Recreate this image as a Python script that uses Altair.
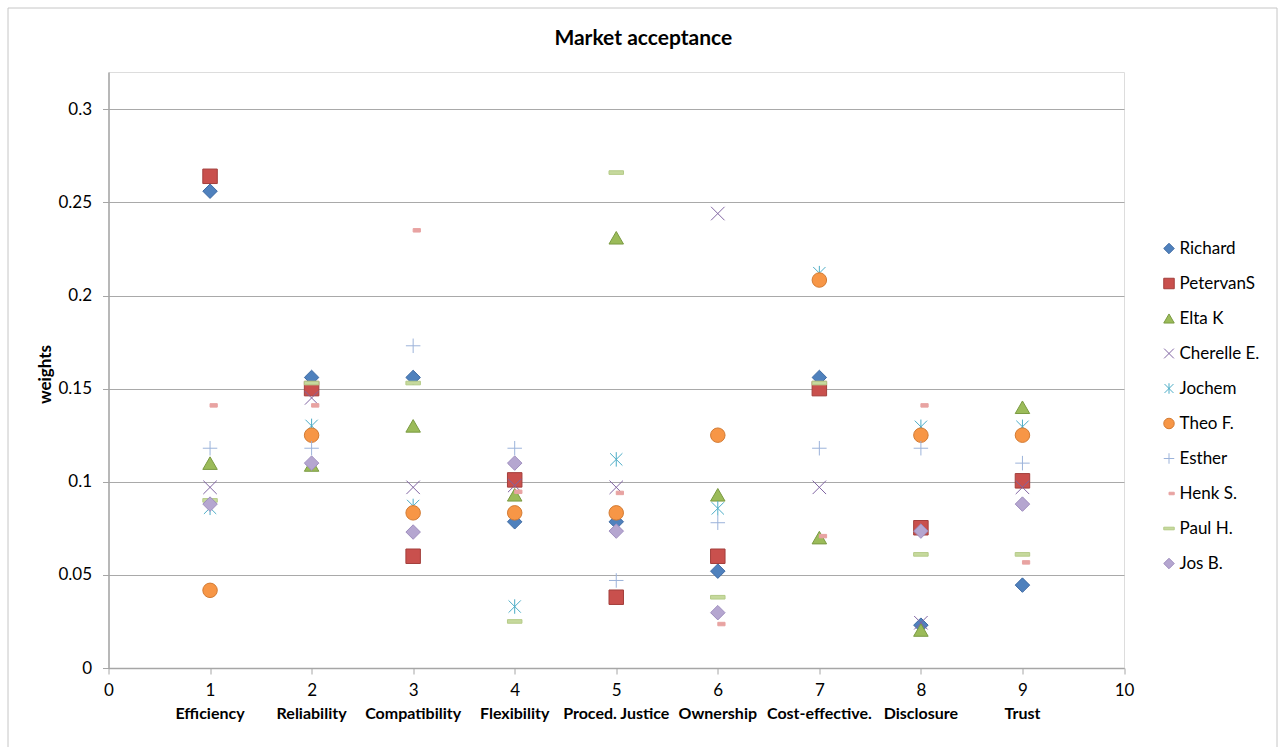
import altair as alt
import pandas as pd

FONT = "Lato"

# Criteria along the x axis (plotted at positions 1..9)
categories = ["Efficiency", "Reliability", "Compatibility", "Flexibility",
              "Proced. Justice", "Ownership", "Cost-effective.", "Disclosure", "Trust"]
positions = [1, 2, 3, 4, 5, 6, 7, 8, 9]

# Respondents, in drawing order
people = ["Richard", "PetervanS", "Elta K", "Cherelle E.", "Jochem",
          "Theo F.", "Esther", "Henk S.", "Paul H.", "Jos B."]

# Weights per respondent, one value per criterion (None = no answer)
richard = [0.256, 0.156, 0.156, 0.0785, 0.0785, 0.052, 0.156, 0.023, 0.0445]
petervans = [0.264, 0.150, 0.060, 0.101, 0.038, 0.060, 0.150, 0.0753, 0.1005]
elta_k = [0.110, 0.109, 0.130, 0.093, 0.231, 0.093, 0.070, 0.0204, 0.140]
cherelle = [0.097, 0.145, 0.097, 0.098, 0.097, 0.244, 0.097, 0.0243, 0.097]
jochem = [0.086, 0.130, 0.087, 0.033, 0.112, 0.0857, 0.212, 0.1295, 0.1295]
theo = [0.0417, 0.125, 0.0833, 0.0833, 0.0833, 0.125, 0.2083, 0.125, 0.125]
esther = [0.118, 0.118, 0.173, 0.118, 0.047, 0.078, 0.118, 0.118, 0.110]
henk = [0.141, 0.141, 0.235, 0.0946, 0.094, 0.0236, 0.0708, 0.141, 0.0567]
paul = [0.090, 0.153, 0.153, 0.025, 0.266, 0.038, 0.153, 0.061, 0.061]
jos = [0.088, 0.110, 0.073, 0.110, 0.0735, 0.0297, None, 0.0735, 0.088]

series = [richard, petervans, elta_k, cherelle, jochem, theo, esther, henk, paul, jos]

rows = []
for name, values in zip(people, series):
    for pos, v in zip(positions, values):
        if v is not None:
            rows.append({"person": name, "pos": pos, "weight": v})
df = pd.DataFrame(rows)
cat_df = pd.DataFrame({"pos": positions, "label": categories})

# Marker styles (Excel-like)
X_PATH = "M-0.93,-0.93L0.93,0.93M-0.93,0.93L0.93,-0.93"
STAR_PATH = "M-0.85,-0.85L0.85,0.85M-0.85,0.85L0.85,-0.85M0,-1L0,1"
PLUS_PATH = "M-1,0L1,0M0,-1L0,1"
DASH_PATH = "M0,-0.24L1,-0.24L1,0.24L0,0.24Z"
BAR_PATH = "M-1,-0.25L1,-0.25L1,0.25L-1,0.25Z"

shape_range = ["diamond", "square", "triangle-up", X_PATH, STAR_PATH,
               "circle", PLUS_PATH, DASH_PATH, BAR_PATH, "diamond"]
fill_range = ["#4F81BD", "#C9504D", "#9BBB59", "transparent", "transparent",
              "#F79646", "transparent", "#E8A3A2", "#C6D99D", "#B5A6D0"]
stroke_range = ["#3F6BA3", "#A33F3C", "#7A9A42", "#8064A2", "#4BACC6",
                "#D37B33", "#9CB3DA", "#E8A3A2", "#B5CB88", "#9E8DBE"]

legend = alt.Legend(
    title=None, orient="none", legendX=1052, legendY=168,
    labelFont=FONT, labelFontSize=17, labelColor="#000000",
    symbolSize=110, symbolStrokeWidth=1, rowPadding=17, labelOffset=2,
    padding=0,
)

x_enc = alt.X(
    "pos:Q",
    scale=alt.Scale(domain=[0, 10], nice=False),
    axis=alt.Axis(
        values=list(range(0, 11)), format="d", title=None, grid=False,
        tickSize=6, labelPadding=8, labelFontSize=17, labelFont=FONT,
        labelColor="#000000", domainColor="#A6A6A6", tickColor="#A6A6A6",
        domainWidth=1.5, labelFlush=False,
    ),
)

points = alt.Chart(df).mark_point(size=210, opacity=1, strokeWidth=1).encode(
    x=x_enc,
    y=alt.Y(
        "weight:Q",
        scale=alt.Scale(domain=[0, 0.32], nice=False),
        axis=alt.Axis(
            values=[0, 0.05, 0.1, 0.15, 0.2, 0.25, 0.3], format=".2~f",
            title="weights", titleFont=FONT, titleFontSize=17,
            titleFontWeight="bold", titleX=-63, titleY=302,
            titleAlign="center", titleBaseline="middle",
            tickSize=6, labelPadding=11, labelFontSize=17, labelFont=FONT,
            labelColor="#000000", domainColor="#A6A6A6", tickColor="#A6A6A6",
            gridColor="#A9A9A9", gridWidth=1, domainWidth=1.5,
        ),
    ),
    shape=alt.Shape("person:N", scale=alt.Scale(domain=people, range=shape_range), legend=legend),
    fill=alt.Fill("person:N", scale=alt.Scale(domain=people, range=fill_range), legend=legend),
    stroke=alt.Stroke("person:N", scale=alt.Scale(domain=people, range=stroke_range), legend=legend),
)

cat_labels = alt.Chart(cat_df).mark_text(
    font=FONT, fontSize=16, fontWeight="bold", baseline="middle", align="center", color="#000000"
).encode(
    x=alt.X("pos:Q"),
    y=alt.value(642),
    text="label:N",
)

frame = alt.Chart(pd.DataFrame({"k": [0]})).mark_rect(
    fillOpacity=0, stroke="#C6C6C6", strokeWidth=1
).encode(
    x=alt.value(-100.5), x2=alt.value(1168.5), y=alt.value(-64), y2=alt.value(690)
)

chart = alt.layer(frame, points, cat_labels).properties(
    width=1015.5,
    height=596,
    autosize=alt.AutoSizeParams(type="none"),
    padding={"left": 108.5, "top": 72, "right": 164, "bottom": 79},
    title=alt.TitleParams(
        "Market acceptance", font=FONT, fontSize=21, fontWeight="bold",
        anchor="middle", baseline="alphabetic", dx=27, dy=58, offset=0,
        color="#000000",
    ),
).configure_view(strokeWidth=0).configure(background="#FFFFFF")

chart.save("out.html", embed_options={"renderer": "svg", "actions": False})
